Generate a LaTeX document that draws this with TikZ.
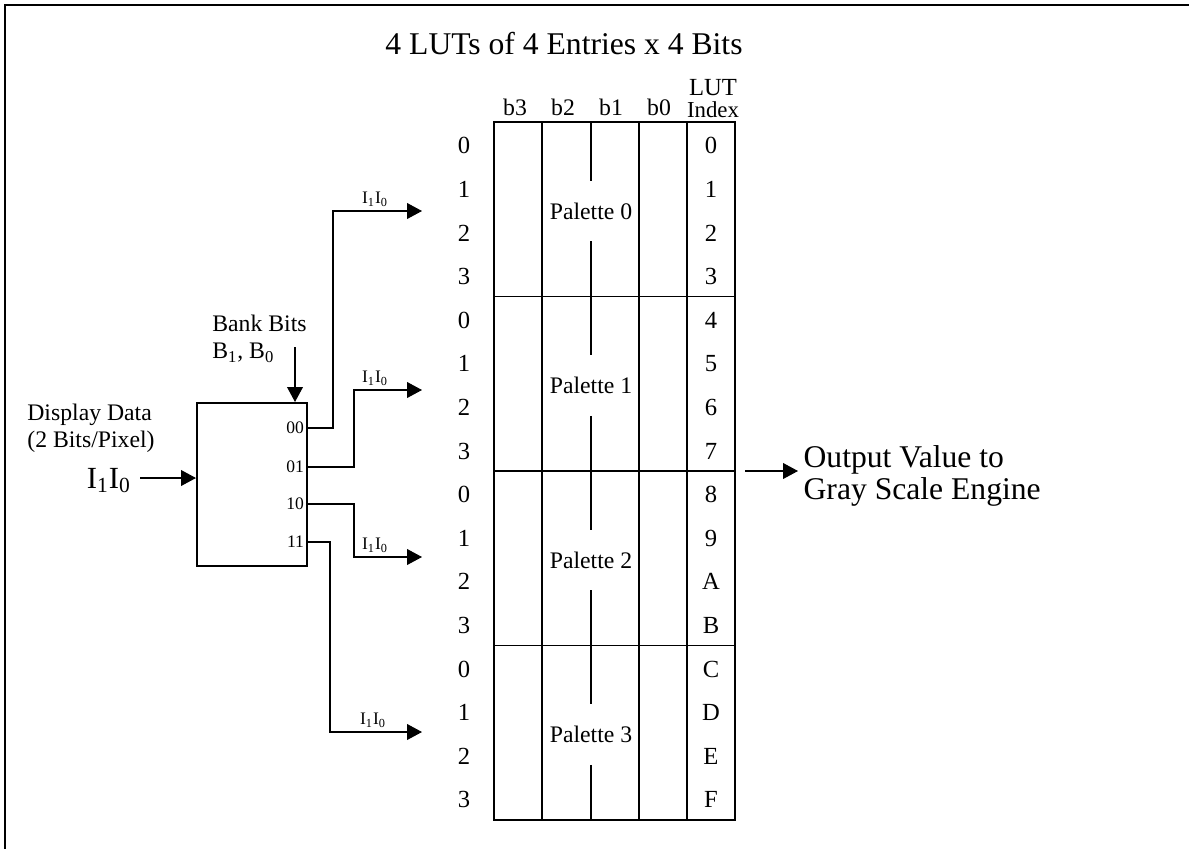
\documentclass[tikz,border=0pt]{standalone}
\usepackage{fontspec}
\setmainfont{Liberation Serif}
\usetikzlibrary{arrows.meta, positioning, calc}

\begin{document}
\begin{tikzpicture}[x=0.02cm, y=-0.02cm,
  thinline/.style={line width=0.6pt},
  tipline/.style={line width=0.6pt, -{Triangle[length=8.5pt,width=9pt]}},
  txt/.style={inner sep=0pt, font=\fontsize{13.5}{15.5}\selectfont},
  port/.style={inner sep=1.5pt, anchor=east, font=\fontsize{10}{12}\selectfont},
  sel/.style={inner sep=0pt, font=\fontsize{10}{12}\selectfont}]
  \useasboundingbox (0,0) rectangle (1189,849);

  % Frame (top and left edges)
  \draw[line width=1.3pt] (1189,5) -- (5,5) -- (5,849);

  % Title
  \node[inner sep=0pt, font=\fontsize{18}{20}\selectfont] (title) at (564,44)
    {4 LUTs of 4 Entries x 4 Bits};

  % Column headers
  \node[txt, anchor=base] (hb3) at (515,115) {b3};
  \node[txt, anchor=base] (hb2) at (563,115) {b2};
  \node[txt, anchor=base] (hb1) at (611,115) {b1};
  \node[txt, anchor=base] (hb0) at (659,115) {b0};
  \node[txt, anchor=base, font=\fontsize{14}{16}\selectfont] (hlut) at (713,95) {LUT};
  \node[txt, anchor=base, font=\fontsize{13}{15}\selectfont] (hidx) at (713,117) {Index};

  % LUT table
  \draw[thinline] (494,122) rectangle (735,820);
  \foreach \x in {542,639,687}
    \draw[thinline] (\x,122) -- (\x,820);
  \foreach \y in {296.5,471,645.5}
    \draw[thinline] (494,\y) -- (735,\y);

  % Palettes, b1 divider broken by the label
  \foreach \p in {0,...,3} {
    \pgfmathsetmacro\top{122+174.5*\p}
    \node[txt, minimum height=1.2cm] (pal\p) at (591,\top+89) {Palette \p};
    \draw[thinline] (591,\top) -- (pal\p.north);
    \draw[thinline] (pal\p.south) -- (591,\top+174.5);
  }

  % Entry numbers and LUT index
  \foreach \t [count=\i from 0] in {0,1,2,3,4,5,6,7,8,9,A,B,C,D,E,F} {
    \pgfmathtruncatemacro\r{mod(\i,4)}
    \node[txt, font=\fontsize{14}{16}\selectfont] (row\i) at (464,{122+43.6*(\i+0.5)+2}) {\r};
    \node[txt, font=\fontsize{14}{16}\selectfont] (idx\i) at (711,{122+43.6*(\i+0.5)+2}) {\t};
  }

  % Output
  \node[txt, anchor=west, align=left, inner sep=3pt,
    font=\fontsize{18}{18.5}\selectfont] (out) at (798,476)
    {Output Value to\\Gray Scale Engine};
  \coordinate (outstart) at (745,471);
  \draw[tipline] (outstart) -- (outstart -| out.west);

  % Palette select block
  \node[draw, line width=1.2pt, minimum width=2.2cm, minimum height=3.26cm]
    (mux) at (252,484.5) {};
  \coordinate (p00) at (307,428);
  \coordinate (p01) at (307,467);
  \coordinate (p10) at (307,504);
  \coordinate (p11) at (307,542);
  \node[port] (l00) at (p00) {00};
  \node[port] (l01) at (p01) {01};
  \node[port] (l10) at (p10) {10};
  \node[port] (l11) at (p11) {11};

  % Inputs
  \node[txt, anchor=west, align=left] (bank) at (212,339)
    {Bank Bits\\B\textsubscript{1}, B\textsubscript{0}};
  \coordinate (bankin) at (295,347);
  \draw[tipline] (bankin) -- (bankin |- mux.north);

  \node[txt, anchor=west, align=left] (disp) at (27,428.5)
    {Display Data\\(2 Bits/Pixel)};
  \node[inner sep=0pt, anchor=base east, font=\fontsize{17.5}{19}\selectfont]
    (din) at (131,488) {I\textsubscript{1}I\textsubscript{0}};
  \coordinate (dinout) at (140,478);
  \draw[tipline] (dinout) -- (dinout -| mux.west);

  % Select lines to the palettes
  \coordinate (in0) at (422,211);
  \coordinate (in1) at (422,390);
  \coordinate (in2) at (422,557);
  \coordinate (in3) at (422,732);
  \draw[tipline] (p00) -- ++(26,0) |- (in0);
  \draw[tipline] (p01) -- ++(47,0) |- (in1);
  \draw[tipline] (p10) -- ++(47,0) |- (in2);
  \draw[tipline] (p11) -- ++(23,0) |- (in3);
  \node[sel] (s0) at (375,199) {I\textsubscript{1}I\textsubscript{0}};
  \node[sel] (s1) at (375,378) {I\textsubscript{1}I\textsubscript{0}};
  \node[sel] (s2) at (375,545) {I\textsubscript{1}I\textsubscript{0}};
  \node[sel] (s3) at (373,720) {I\textsubscript{1}I\textsubscript{0}};
\end{tikzpicture}
\end{document}
